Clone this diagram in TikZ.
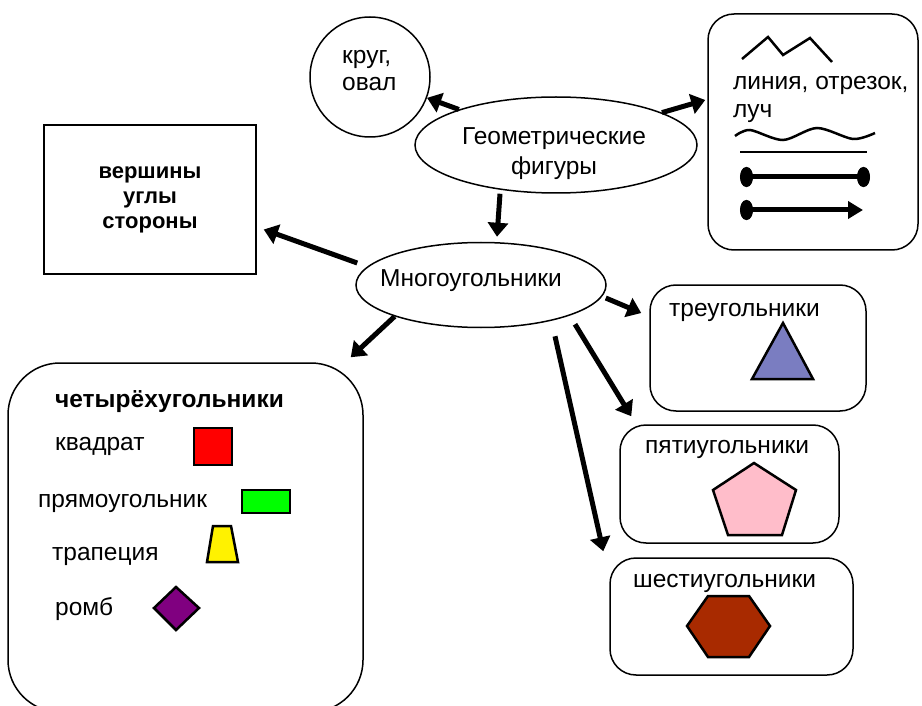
\documentclass[tikz,border=0pt]{standalone}
\usepackage{fontspec}
\setmainfont{Liberation Sans}
\usetikzlibrary{positioning, arrows.meta, shapes.geometric}

\definecolor{triblue}{RGB}{122,125,193}
\definecolor{pentapink}{RGB}{255,189,202}
\definecolor{hexbrown}{RGB}{168,42,0}

\begin{document}
\begin{tikzpicture}[x=1pt, y=-1pt, node distance=2cm,
        every node/.style={font=\fontsize{24.5}{29}\selectfont, inner sep=0pt},
        bigarrow/.style={line width=5pt, -{Triangle[length=14pt, width=20pt]}},
        roundbox/.style={draw, line width=1.5pt, rounded corners=26pt},
        oval/.style={draw, ellipse, line width=1.5pt},
        fig/.style={draw, line width=2.5pt, line join=miter}]

    \useasboundingbox (0,0) rectangle (922,706);
    \clip (0,0) rectangle (922,706);

    % main ovals
    \node [oval, minimum width=282pt, minimum height=96pt] (geo) at (556,145) {};
    \node [align=center, font=\fontsize{24.5}{30}\selectfont] (geotxt) at (554,153.8) {Геометрические\\фигуры};
    \node [oval, minimum width=250pt, minimum height=85pt] (mnogo) at (481,285) {};
    \node [anchor=base] (mnogotxt) at (471,286) {Многоугольники};

    \node [draw, circle, line width=1.5pt, minimum size=120pt] (circ) at (370,77) {};
    \node [align=left, anchor=west, font=\fontsize{24.5}{27}\selectfont] (circtxt) at (342,70.2) {круг,\\овал};

    \node [draw, line width=1.5pt, minimum width=212pt, minimum height=149pt, align=center,
        font=\fontsize{22}{25}\selectfont\bfseries] (vert) at (150,199.5) {вершины\\углы\\стороны};

    % lines box
    \node [roundbox, minimum width=210pt, minimum height=236pt] (lines) at (813,132) {};
    \node [align=left, anchor=west, font=\fontsize{24.5}{28}\selectfont] (linestxt) at (733,99.2) {линия, отрезок,\\луч};
    \draw [fig] (742,59) -- (768,37) -- (783,55) -- (810,38) -- (832,62);
    \draw [line width=2.5pt] plot [smooth] coordinates
        {(735,136) (750,130) (783,140) (817,128) (853,139) (875,133)};
    \draw [line width=2.5pt] (740,152) -- (867,152);
    \draw [line width=5pt, {Ellipse[length=13pt, width=20pt]}-{Ellipse[length=13pt, width=20pt]}]
        (740,177) -- (870,177);
    \draw [line width=5pt, {Ellipse[length=13pt, width=20pt]}-{Triangle[length=15pt, width=17pt]}]
        (740,210) -- (863,210);

    % quadrilaterals
    \node [roundbox, rounded corners=52pt, minimum width=355pt, minimum height=349pt] (chetyr) at (185.5,537.5) {};
    \node [anchor=base west, font=\fontsize{24.5}{29}\selectfont\bfseries] (chetyrtxt) at (55,407) {четырёхугольники};
    \node [anchor=base west] (kvadrat) at (55,450) {квадрат};
    \node [anchor=base west] (pryamoug) at (38,507) {прямоугольник};
    \node [anchor=base west] (trapec) at (52,560) {трапеция};
    \node [anchor=base west] (romb) at (55,615) {ромб};
    \draw [fig, fill=red] (194,428) rectangle (232,465);
    \draw [fig, fill=green] (242,490) rectangle (290,513);
    \draw [fig, fill=yellow] (213,526) -- (231,526) -- (238,562) -- (207,562) -- cycle;
    \draw [fig, fill=violet] (154,608) -- (176,587) -- (199,608) -- (176,630) -- cycle;

    % triangles, pentagons, hexagons
    \node [roundbox, minimum width=216pt, minimum height=126pt] (treug) at (758,348) {};
    \node [anchor=base west] (treugtxt) at (669,316) {треугольники};
    \draw [fig, fill=triblue] (783,323) -- (813,379) -- (752,379) -- cycle;

    \node [roundbox, minimum width=219pt, minimum height=118pt] (pyat) at (729.5,484) {};
    \node [anchor=base west] (pyattxt) at (645,453) {пятиугольники};
    \draw [fig, fill=pentapink] (754,463) -- (796,490) -- (782,535) -- (728,535) -- (713,490) -- cycle;

    \node [roundbox, minimum width=243pt, minimum height=117pt] (shest) at (731.5,616.5) {};
    \node [anchor=base west] (shesttxt) at (633,587) {шестиугольники};
    \draw [fig, fill=hexbrown] (687,626) -- (708,596) -- (749,596) -- (770,626) -- (749,657) -- (708,657) -- cycle;

    % arrows
    \draw [bigarrow] (geo) -- (circ);
    \draw [bigarrow] (geo.17) -- ([xshift=-2pt, yshift=32pt]lines.west);
    \draw [bigarrow] ([xshift=-56pt]geo.south) -- ([xshift=16pt, yshift=5pt]mnogo.north);
    \draw [bigarrow] ([xshift=2pt, yshift=22pt]mnogo.west) -- ([xshift=7pt, yshift=-30pt]vert.east);
    \draw [bigarrow] (mnogo.200) -- ([xshift=-13pt, yshift=5pt]chetyr.north east);
    \draw [bigarrow] ([xshift=-1pt, yshift=-13pt]mnogo.east) -- ([xshift=-8pt, yshift=35pt]treug.west);
    \draw [bigarrow] ([xshift=94pt, yshift=4pt]mnogo.south) -- ([xshift=12pt, yshift=8pt]pyat.north west);
    \draw [bigarrow] ([xshift=74pt, yshift=-8pt]mnogo.south) -- ([xshift=-6pt, yshift=6pt]shest.north west);

\end{tikzpicture}
\end{document}
